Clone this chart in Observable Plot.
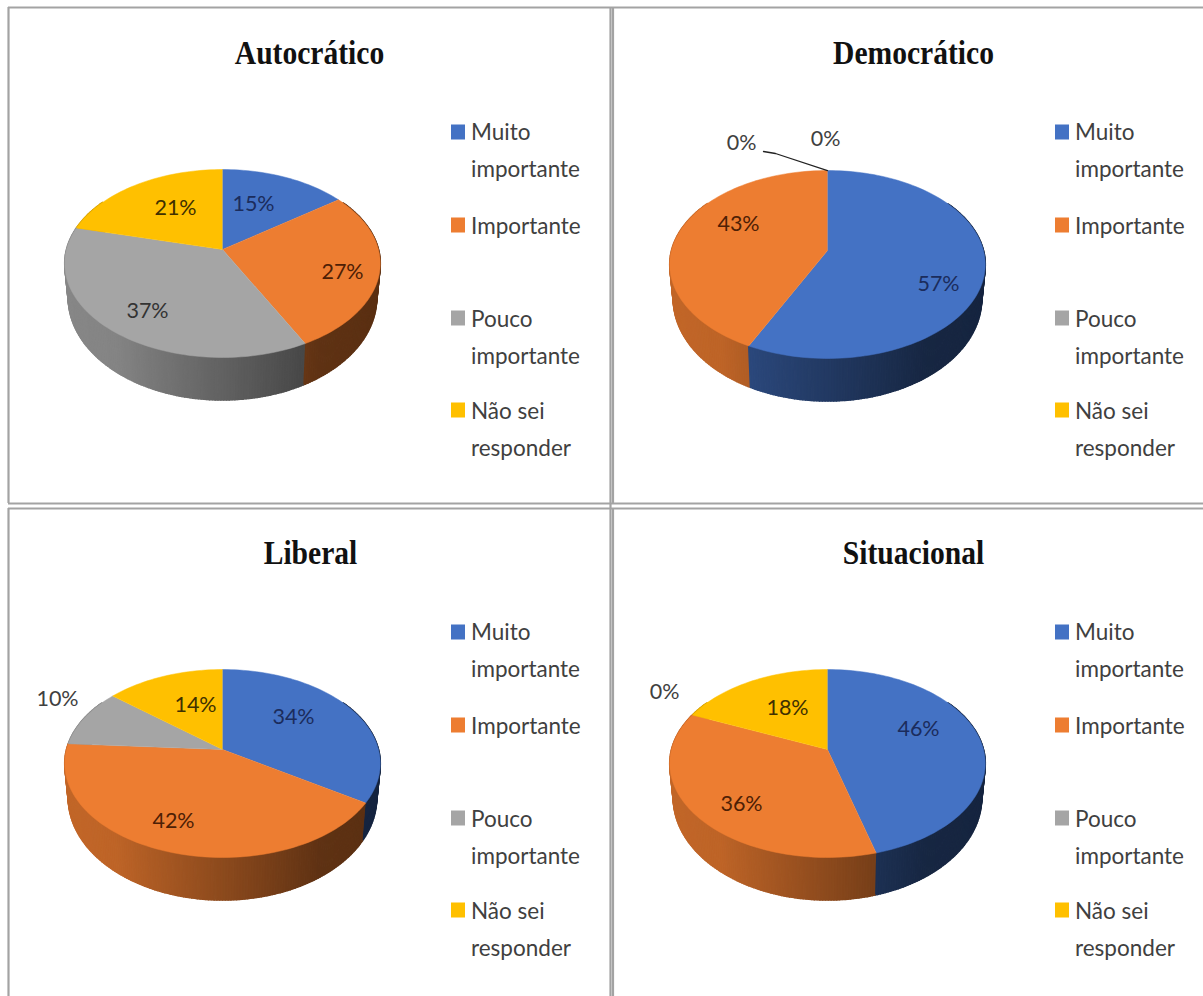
<!DOCTYPE html>
<html lang="pt">
<head>
<meta charset="utf-8">
<style>html,body{margin:0;padding:0;background:#fff}svg{display:block}</style>
<script src="https://cdn.jsdelivr.net/npm/d3@7"></script>
<script src="https://cdn.jsdelivr.net/npm/@observablehq/plot@0.6"></script>
</head>
<body>
<div id="chart"></div>
<script>
// ---- data ----
const categories = ["Muito importante", "Importante", "Pouco importante", "Não sei responder"];
const legendLines = ["Muito\nimportante", "Importante", "Pouco\nimportante", "Não sei\nresponder"];
const titles = ["Autocrático", "Democrático", "Liberal", "Situacional"];
const autocratico = [15, 27.4, 36.5, 21.1];
const democratico = [57.2, 42.8, 0, 0];
const liberal = [34, 42, 10, 14];
const situacional = [45.7, 35.81, 0, 18.49];
const sliceColors = ["#4472c4", "#ed7d31", "#a5a5a5", "#ffc000"];
const wallTint = [0.85, 1, 1, 1];
const labelInk = ["#1b2c5c", "#4d2005", "#333333", "#403000"];

// ---- layout (not data) ----
const W = 1203, H = 996;
const panels = [
  {cx: 222, cy: 249, tx: 309, ty: 53, lx: 451, values: autocratico},
  {cx: 827, cy: 250, tx: 913, ty: 53, lx: 1055, values: democratico},
  {cx: 222, cy: 749, tx: 310, ty: 553, lx: 451, values: liberal},
  {cx: 827, cy: 749, tx: 913, ty: 553, lx: 1055, values: situacional}
];
// label offsets from each pie's hub, by category
const labelOffsets = [
  [[31, -45], [120, 23], [-75, 62], [-47, -41]],
  [[111, 34], [-89, -26], [-86, -107], [-2, -111]],
  [[71, -32], [-49, 72], [-165, -50], [-27, -44]],
  [[91, -20], [-86, 55], [-163, -57], [-40, -41]]
];
const swatchRows = [132, 225, 318, 410];
const legendRows = [146, 222, 333, 425];

// perspective of the pie (top rim and bottom rim)
const persp = 0.149;
const rim = {b: 156, a: 91.9};
const base = {b: 152.5, a: 100, drop: 33};
const shade = d3.scaleLinear().domain([-1, -0.6, 0.55, 1]).range([0.82, 0.8, 0.4, 0.38]).clamp(true);

function project(p, theta, ring) {
  const X = Math.sin(theta), Y = Math.cos(theta), d = 1 + persp * Y;
  return [p.cx + ring.b * X / d, p.cy + (ring.drop || 0) - ring.a * Y / d];
}
const rad = (pct) => pct / 100 * 2 * Math.PI;

const tops = [], walls = [], labels = [], swatches = [], legendText = [];
panels.forEach((p, pi) => {
  let acc = 0;
  p.values.forEach((v, ci) => {
    const a0 = acc, a1 = acc + v;
    acc = a1;
    const off = labelOffsets[pi][ci];
    labels.push({x: p.cx + off[0], y: p.cy + off[1], text: Math.round(v) + "%", ink: v === 0 || (pi === 2 && ci === 2) ? "#404040" : labelInk[ci]});
    swatches.push({x1: p.lx, x2: p.lx + 14, y1: swatchRows[ci] - 7.5 + (pi > 1 ? 500 : 0), y2: swatchRows[ci] + 7.5 + (pi > 1 ? 500 : 0), cat: categories[ci]});
    legendText.push({x: p.lx + 19.5, y: legendRows[ci] + (pi > 1 ? 500 : 0), text: legendLines[ci]});
    if (v === 0) return;
    const id = `t${pi}-${ci}`;
    tops.push({id, cat: categories[ci], x: p.cx, y: p.cy});
    const n = Math.max(2, Math.ceil(v * 2));
    for (let i = 0; i <= n; ++i) {
      const [x, y] = project(p, rad(a0 + (a1 - a0) * i / n), rim);
      tops.push({id, cat: categories[ci], x, y});
    }
    // side wall strips, fine enough to read as a gradient
    const steps = Math.max(1, Math.ceil(v * 4));
    for (let i = 0; i < steps; ++i) {
      const t0 = rad(a0 + (a1 - a0) * i / steps), t1 = rad(a0 + (a1 - a0) * (i + 1) / steps);
      const tm = (t0 + t1) / 2;
      if (Math.cos(tm) > 0.55) continue;
      const f = shade(Math.sin(tm)) * wallTint[ci];
      const c = d3.rgb(sliceColors[ci]);
      const color = d3.rgb(c.r * f, c.g * f, c.b * f).formatHex();
      const wid = `w${pi}-${ci}-${i}`;
      const quad = [project(p, t0, rim), project(p, t1, rim), project(p, t1, base), project(p, t0, base)];
      const order = -Math.cos(tm);
      quad.forEach(([x, y]) => walls.push({id: wid, x, y, color, order}));
    }
  });
});
walls.sort((a, b) => a.order - b.order);

// frame lines of the four panels
const frameV = [{x: 8, y1: 7, y2: 503}, {x: 610, y1: 7, y2: 503}, {x: 612.5, y1: 7, y2: 503},
                {x: 8, y1: 508, y2: H}, {x: 610, y1: 503, y2: H}, {x: 612.5, y1: 508, y2: H}];
const frameH = [{y: 7, x1: 8, x2: W}, {y: 503, x1: 8, x2: W}, {y: 508, x1: 8, x2: W}];

// leader line of the Democrático 0% label
const dem = panels[1];
const hub = project(dem, 0, rim);
const leader = [{x: dem.cx - 64, y: dem.cy - 99}, {x: dem.cx - 52, y: dem.cy - 97}, {x: hub[0], y: hub[1]}];

const chart = Plot.plot({
  width: W, height: H, margin: 0,
  x: {domain: [0, W], range: [0, W], axis: null},
  y: {domain: [0, H], range: [0, H], axis: null},
  color: {domain: categories, range: sliceColors},
  style: {background: "#fff"},
  marks: [
    Plot.ruleX(frameV, {x: "x", y1: "y1", y2: "y2", stroke: "#a3a3a3", strokeWidth: 2.2}),
    Plot.ruleY(frameH, {y: "y", x1: "x1", x2: "x2", stroke: "#a3a3a3", strokeWidth: 2.2}),
    Plot.line(walls, {x: "x", y: "y", z: "id", fill: {value: "color", scale: null}, stroke: {value: "color", scale: null}, strokeWidth: 1.6}),
    Plot.line(tops, {x: "x", y: "y", z: "id", fill: "cat", stroke: "cat", strokeWidth: 0.5}),
    Plot.line(leader, {x: "x", y: "y", stroke: "#222", strokeWidth: 1.3}),
    Plot.text(labels, {x: "x", y: "y", text: "text", fill: {value: "ink", scale: null}, fontFamily: "Lato", fontSize: 21.5}),
    Plot.rect(swatches, {x1: "x1", x2: "x2", y1: "y1", y2: "y2", fill: "cat"}),
    Plot.text(legendText, {x: "x", y: "y", text: "text", textAnchor: "start", lineHeight: 1.644, fill: "#404040", fontFamily: "Lato", fontSize: 22.5}),
    Plot.text(panels.map((p, i) => ({x: p.tx, y: p.ty, text: titles[i]})), {x: "x", y: "y", text: "text", className: "ttl", fill: "#111", fontFamily: "Liberation Serif", fontWeight: "bold", fontSize: 34})
  ]
});
document.getElementById("chart").appendChild(chart);
// the titles are narrow in the picture: squeeze them horizontally
chart.querySelectorAll(".ttl text").forEach((t) => {
  t.setAttribute("textLength", t.getComputedTextLength() * 0.87);
  t.setAttribute("lengthAdjust", "spacingAndGlyphs");
});
</script>
</body>
</html>
